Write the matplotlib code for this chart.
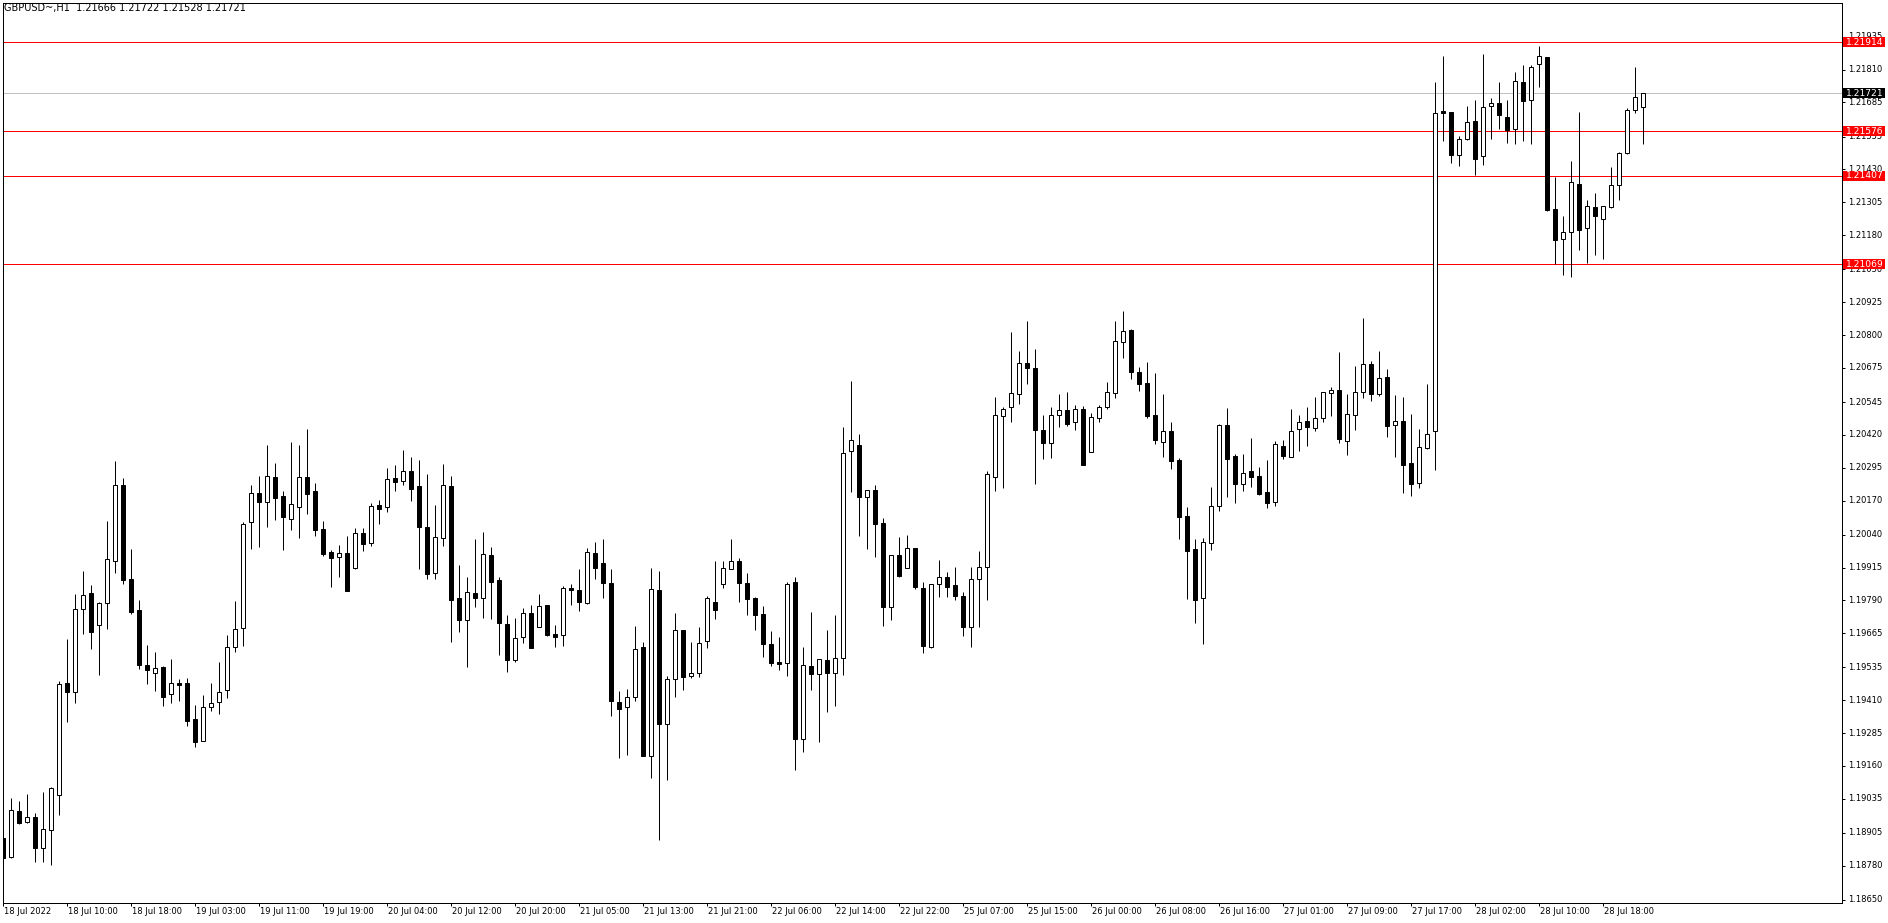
import matplotlib
matplotlib.use("Agg")
import matplotlib.pyplot as plt
from matplotlib.patches import Rectangle
from matplotlib.transforms import blended_transform_factory

# GBPUSD H1, 18 Jul 2022 - 28 Jul 2022
opens = [
    1.18884, 1.18812, 1.18988, 1.18948, 1.18964, 1.18846, 1.18915, 1.19048, 1.19474, 1.19440,
    1.19756, 1.19817, 1.19695, 1.19779, 1.19939, 1.20228, 1.19870, 1.19752, 1.19543, 1.19512,
    1.19535, 1.19432, 1.19474, 1.19474, 1.19337, 1.19256, 1.19383, 1.19404, 1.19448, 1.19614,
    1.19686, 1.20087, 1.20197, 1.20163, 1.20258, 1.20186, 1.20098, 1.20144, 1.20258, 1.20206,
    1.20062, 1.19973, 1.19954, 1.19969, 1.19914, 1.20045, 1.20010, 1.20152, 1.20144, 1.20254,
    1.20243, 1.20281, 1.20224, 1.20068, 1.19893, 1.20026, 1.20224, 1.19798, 1.19717, 1.19817,
    1.19798, 1.19961, 1.19866, 1.19699, 1.19562, 1.19649, 1.19741, 1.19687, 1.19771, 1.19661,
    1.19657, 1.19836, 1.19828, 1.19781, 1.19969, 1.19931, 1.19855, 1.19402, 1.19383, 1.19421,
    1.19611, 1.19199, 1.19829, 1.19321, 1.19489, 1.19676, 1.19503, 1.19512, 1.19634, 1.19782,
    1.19851, 1.19908, 1.19939, 1.19855, 1.19798, 1.19738, 1.19624, 1.19554, 1.19550, 1.19860,
    1.19261, 1.19540, 1.19508, 1.19563, 1.19512, 1.19569, 1.20357, 1.20381, 1.20182, 1.20209,
    1.20083, 1.19766, 1.19961, 1.19912, 1.19988, 1.19836, 1.19614, 1.19854, 1.19878, 1.19847,
    1.19807, 1.19687, 1.19870, 1.19918, 1.20258, 1.20490, 1.20525, 1.20574, 1.20693, 1.20674,
    1.20437, 1.20388, 1.20494, 1.20513, 1.20468, 1.20517, 1.20356, 1.20483, 1.20527, 1.20578,
    1.20775, 1.20818, 1.20659, 1.20617, 1.20494, 1.20394, 1.20433, 1.20324, 1.20110, 1.19984,
    1.19798, 1.20010, 1.20149, 1.20456, 1.20339, 1.20234, 1.20282, 1.20263, 1.20201, 1.20165,
    1.20378, 1.20337, 1.20441, 1.20473, 1.20447, 1.20483, 1.20581, 1.20589, 1.20395, 1.20494,
    1.20584, 1.20688, 1.20574, 1.20639, 1.20456, 1.20471, 1.20312, 1.20235, 1.20371, 1.20433,
    1.21651, 1.21647, 1.21484, 1.21547, 1.21613, 1.21480, 1.21670, 1.21682, 1.21628, 1.21585,
    1.21762, 1.21696, 1.21830, 1.21858, 1.21278, 1.21164, 1.21191, 1.21373, 1.21206, 1.21286,
    1.21240, 1.21286, 1.21370, 1.21494, 1.21655, 1.21666,
]
highs = [
    1.18884, 1.19037, 1.19026, 1.19053, 1.18979, 1.19061, 1.19078, 1.19483, 1.19643, 1.19814,
    1.19902, 1.19849, 1.19784, 1.20092, 1.20321, 1.20255, 1.19986, 1.19790, 1.19620, 1.19594,
    1.19541, 1.19567, 1.19491, 1.19493, 1.19392, 1.19429, 1.19474, 1.19554, 1.19658, 1.19786,
    1.20087, 1.20229, 1.20263, 1.20381, 1.20313, 1.20206, 1.20393, 1.20381, 1.20441, 1.20237,
    1.20092, 1.19982, 1.20001, 1.20035, 1.20065, 1.20065, 1.20159, 1.20172, 1.20294, 1.20305,
    1.20362, 1.20336, 1.20324, 1.20271, 1.20153, 1.20309, 1.20263, 1.19925, 1.19879, 1.20024,
    1.20050, 1.19993, 1.19879, 1.19734, 1.19723, 1.19761, 1.19772, 1.19814, 1.19771, 1.19696,
    1.19845, 1.19852, 1.19909, 1.19989, 1.20012, 1.20024, 1.19908, 1.19445, 1.19451, 1.19692,
    1.19630, 1.19912, 1.19902, 1.19502, 1.19741, 1.19676, 1.19630, 1.19689, 1.19805, 1.19939,
    1.19939, 1.20024, 1.19950, 1.19893, 1.19804, 1.19769, 1.19675, 1.19652, 1.19860, 1.19879,
    1.19613, 1.19744, 1.19566, 1.19677, 1.19734, 1.20449, 1.20625, 1.20423, 1.20209, 1.20229,
    1.20103, 1.19961, 1.20031, 1.20039, 1.19988, 1.19859, 1.19851, 1.19944, 1.19897, 1.19917,
    1.19821, 1.19917, 1.19978, 1.20282, 1.20564, 1.20526, 1.20811, 1.20739, 1.20853, 1.20747,
    1.20496, 1.20526, 1.20575, 1.20583, 1.20532, 1.20529, 1.20502, 1.20532, 1.20621, 1.20853,
    1.20891, 1.20823, 1.20678, 1.20697, 1.20655, 1.20575, 1.20469, 1.20331, 1.20145, 1.20024,
    1.20027, 1.20223, 1.20460, 1.20522, 1.20347, 1.20347, 1.20408, 1.20298, 1.20324, 1.20397,
    1.20400, 1.20518, 1.20496, 1.20526, 1.20564, 1.20582, 1.20602, 1.20735, 1.20575, 1.20682,
    1.20866, 1.20701, 1.20739, 1.20671, 1.20572, 1.20564, 1.20499, 1.20442, 1.20613, 1.21763,
    1.21860, 1.21647, 1.21556, 1.21672, 1.21693, 1.21870, 1.21702, 1.21763, 1.21693, 1.21801,
    1.21828, 1.21828, 1.21900, 1.21858, 1.21401, 1.21253, 1.21462, 1.21649, 1.21313, 1.21339,
    1.21290, 1.21438, 1.21495, 1.21663, 1.21820, 1.21722,
]
lows = [
    1.18728, 1.18808, 1.18938, 1.18944, 1.18796, 1.18796, 1.18783, 1.18973, 1.19328, 1.19401,
    1.19662, 1.19605, 1.19507, 1.19681, 1.19896, 1.19852, 1.19739, 1.19530, 1.19472, 1.19446,
    1.19389, 1.19401, 1.19408, 1.19313, 1.19233, 1.19256, 1.19370, 1.19358, 1.19420, 1.19595,
    1.19616, 1.19986, 1.19993, 1.20069, 1.20097, 1.19982, 1.20059, 1.20029, 1.20119, 1.20036,
    1.19960, 1.19842, 1.19880, 1.19827, 1.19911, 1.19979, 1.19998, 1.20082, 1.20128, 1.20208,
    1.20230, 1.20169, 1.19911, 1.19873, 1.19873, 1.19998, 1.19633, 1.19671, 1.19538, 1.19766,
    1.19724, 1.19719, 1.19582, 1.19519, 1.19557, 1.19629, 1.19610, 1.19687, 1.19656, 1.19614,
    1.19618, 1.19772, 1.19751, 1.19778, 1.19873, 1.19800, 1.19351, 1.19191, 1.19201, 1.19408,
    1.19199, 1.19115, 1.18878, 1.19106, 1.19423, 1.19449, 1.19496, 1.19500, 1.19610, 1.19720,
    1.19838, 1.19908, 1.19785, 1.19734, 1.19677, 1.19576, 1.19541, 1.19526, 1.19503, 1.19144,
    1.19214, 1.19449, 1.19252, 1.19366, 1.19389, 1.19507, 1.20204, 1.20036, 1.19987, 1.19956,
    1.19694, 1.19716, 1.19880, 1.19912, 1.19835, 1.19588, 1.19607, 1.19804, 1.19804, 1.19791,
    1.19656, 1.19614, 1.19690, 1.19791, 1.20206, 1.20219, 1.20470, 1.20539, 1.20615, 1.20234,
    1.20329, 1.20333, 1.20451, 1.20455, 1.20440, 1.20307, 1.20356, 1.20470, 1.20520, 1.20562,
    1.20714, 1.20634, 1.20588, 1.20485, 1.20386, 1.20337, 1.20291, 1.20025, 1.19796, 1.19705,
    1.19623, 1.19982, 1.20130, 1.20185, 1.20160, 1.20206, 1.20223, 1.20192, 1.20140, 1.20150,
    1.20329, 1.20337, 1.20360, 1.20378, 1.20436, 1.20469, 1.20492, 1.20388, 1.20343, 1.20440,
    1.20561, 1.20550, 1.20569, 1.20413, 1.20337, 1.20200, 1.20188, 1.20219, 1.20367, 1.20286,
    1.21540, 1.21456, 1.21444, 1.21542, 1.21409, 1.21448, 1.21547, 1.21585, 1.21529, 1.21528,
    1.21540, 1.21528, 1.21745, 1.21273, 1.21071, 1.21030, 1.21020, 1.21125, 1.21075, 1.21106,
    1.21090, 1.21282, 1.21315, 1.21490, 1.21644, 1.21528,
]
closes = [
    1.18808, 1.18992, 1.18944, 1.18964, 1.18846, 1.18920, 1.19075, 1.19471, 1.19443, 1.19756,
    1.19809, 1.19671, 1.19779, 1.19946, 1.20228, 1.19869, 1.19747, 1.19545, 1.19526, 1.19531,
    1.19423, 1.19474, 1.19468, 1.19332, 1.19252, 1.19383, 1.19401, 1.19442, 1.19614, 1.19680,
    1.20079, 1.20197, 1.20166, 1.20262, 1.20181, 1.20109, 1.20156, 1.20258, 1.20196, 1.20059,
    1.19968, 1.19952, 1.19969, 1.19827, 1.20045, 1.20006, 1.20148, 1.20139, 1.20251, 1.20242,
    1.20281, 1.20215, 1.20071, 1.19892, 1.20030, 1.20228, 1.19793, 1.19715, 1.19821, 1.19800,
    1.19965, 1.19861, 1.19705, 1.19564, 1.19646, 1.19741, 1.19610, 1.19767, 1.19658, 1.19652,
    1.19836, 1.19830, 1.19785, 1.19973, 1.19915, 1.19857, 1.19408, 1.19375, 1.19421, 1.19604,
    1.19199, 1.19832, 1.19321, 1.19489, 1.19676, 1.19500, 1.19512, 1.19626, 1.19798, 1.19755,
    1.19912, 1.19939, 1.19857, 1.19797, 1.19736, 1.19625, 1.19550, 1.19549, 1.19852, 1.19264,
    1.19543, 1.19508, 1.19566, 1.19515, 1.19569, 1.20350, 1.20399, 1.20185, 1.20209, 1.20082,
    1.19766, 1.19961, 1.19884, 1.19988, 1.19840, 1.19618, 1.19851, 1.19878, 1.19842, 1.19808,
    1.19690, 1.19870, 1.19916, 1.20271, 1.20494, 1.20517, 1.20578, 1.20692, 1.20676, 1.20440,
    1.20390, 1.20494, 1.20513, 1.20463, 1.20517, 1.20307, 1.20487, 1.20525, 1.20582, 1.20776,
    1.20814, 1.20660, 1.20615, 1.20492, 1.20402, 1.20433, 1.20322, 1.20109, 1.19979, 1.19793,
    1.20011, 1.20149, 1.20456, 1.20329, 1.20234, 1.20273, 1.20261, 1.20196, 1.20160, 1.20384,
    1.20341, 1.20435, 1.20468, 1.20451, 1.20483, 1.20582, 1.20589, 1.20405, 1.20498, 1.20582,
    1.20688, 1.20574, 1.20635, 1.20455, 1.20471, 1.20306, 1.20234, 1.20372, 1.20422, 1.21644,
    1.21646, 1.21486, 1.21547, 1.21609, 1.21471, 1.21666, 1.21682, 1.21636, 1.21581, 1.21766,
    1.21692, 1.21819, 1.21861, 1.21276, 1.21163, 1.21191, 1.21381, 1.21201, 1.21290, 1.21254,
    1.21290, 1.21370, 1.21491, 1.21655, 1.21705, 1.21721,
]

time_labels = [
    "18 Jul 2022", "18 Jul 10:00", "18 Jul 18:00", "19 Jul 03:00", "19 Jul 11:00",
    "19 Jul 19:00", "20 Jul 04:00", "20 Jul 12:00", "20 Jul 20:00", "21 Jul 05:00",
    "21 Jul 13:00", "21 Jul 21:00", "22 Jul 06:00", "22 Jul 14:00", "22 Jul 22:00",
    "25 Jul 07:00", "25 Jul 15:00", "26 Jul 00:00", "26 Jul 08:00", "26 Jul 16:00",
    "27 Jul 01:00", "27 Jul 09:00", "27 Jul 17:00", "28 Jul 02:00", "28 Jul 10:00",
    "28 Jul 18:00",
]
label_every = 8

price_ticks = [
    1.21935, 1.21810, 1.21685, 1.21555, 1.21430, 1.21305, 1.21180, 1.21050, 1.20925,
    1.20800, 1.20675, 1.20545, 1.20420, 1.20295, 1.20170, 1.20040, 1.19915, 1.19790,
    1.19665, 1.19535, 1.19410, 1.19285, 1.19160, 1.19035, 1.18905, 1.18780, 1.18650,
]
levels = [1.21914, 1.21576, 1.21407, 1.21069]
bid = 1.21721
header = "GBPUSD~,H1  1.21666 1.21722 1.21528 1.21721"

W, H = 1888, 923
px = 0.72  # one pixel in points at dpi 100
FONT = "DejaVu Sans"
FS = 6.0

fig = plt.figure(figsize=(W / 100, H / 100), dpi=100)
left_px, right_px, top_px, bot_px = 2.7, 1842, 3, 903
ax = fig.add_axes([left_px / W, 1 - bot_px / H,
                   (right_px - left_px) / W, (bot_px - top_px) / H])

# pixel scale: bar spacing 8 px, first bar 3.3 px from figure left
bar_px = 8.0
ax.set_xlim((left_px - 3.3) / bar_px, (right_px - 3.3) / bar_px)
ax.set_ylim(1.186382, 1.220636)
per_px = (1.220636 - 1.186382) / (bot_px - top_px)

for i, (o, h, l, c) in enumerate(zip(opens, highs, lows, closes)):
    ax.vlines(i, l, h, color="black", lw=px, zorder=2)
    bull = c >= o
    ax.add_patch(Rectangle((i - 0.25, min(o, c)), 0.5, max(abs(c - o), per_px * 0.3),
                           facecolor="white" if bull else "black",
                           edgecolor="black", lw=px, zorder=3))

for lv in levels:
    ax.axhline(lv, color="#ff0000", lw=px, zorder=1)
ax.axhline(bid, color="#c0c0c0", lw=px, zorder=1)

for sp in ax.spines.values():
    sp.set_color("black")
    sp.set_linewidth(px)

ax.set_yticks(price_ticks)
ax.yaxis.tick_right()
ax.tick_params(axis="y", direction="out", length=3 * px, width=px, colors="black",
               labelright=False)
xt = list(range(0, len(opens), label_every))[:len(time_labels)]
ax.set_xticks(xt)
ax.tick_params(axis="x", direction="out", length=3 * px, width=px, colors="black",
               labelbottom=False)

tr_y = blended_transform_factory(fig.transFigure, ax.transData)
for p in price_ticks:
    ax.text(1848 / W, p, f"{p:.5f}", transform=tr_y, ha="left", va="center",
            fontsize=FS, family=FONT, color="black", clip_on=False, zorder=4)

box_h = 10 * per_px
for lv, fc in [(lv, "#ff0000") for lv in levels] + [(bid, "black")]:
    ax.add_patch(Rectangle((1843 / W, lv - box_h / 2), 42 / W, box_h, transform=tr_y,
                           facecolor=fc, edgecolor="none", clip_on=False, zorder=5))
    ax.text(1846 / W, lv, f"{lv:.5f}", transform=tr_y, ha="left", va="center",
            fontsize=6.6, family=FONT, color="white", clip_on=False, zorder=6)

tr_x = blended_transform_factory(ax.transData, fig.transFigure)
for pos, lab in zip(xt, time_labels):
    ax.text(pos + 0.15, 1 - 911.5 / H, lab, transform=tr_x, ha="left", va="center",
            fontsize=FS, family=FONT, color="black", clip_on=False)

fig.text(4 / W, 1 - 8.5 / H, header, ha="left", va="center", fontsize=7,
         family=FONT, color="black")

fig.savefig("out.png", dpi=100, facecolor="white")
